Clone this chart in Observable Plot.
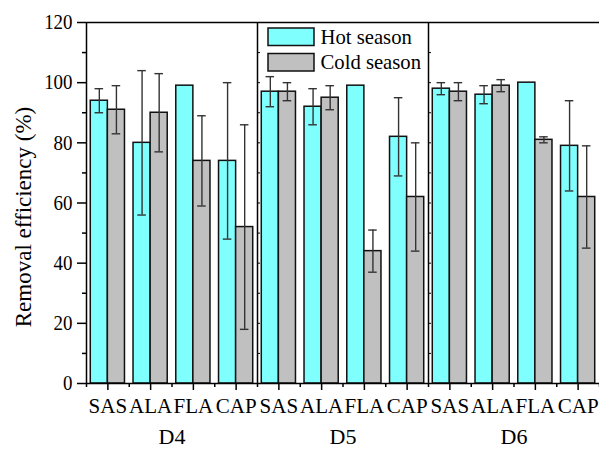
<!DOCTYPE html>
<html><head><meta charset="utf-8">
<script src="https://cdn.jsdelivr.net/npm/d3@7"></script>
<script src="https://cdn.jsdelivr.net/npm/@observablehq/plot@0.6"></script>
<style>
html,body{margin:0;padding:0;background:#fff;overflow:hidden}
#chart{position:relative;width:599px;height:449px}
#chart svg{font-family:'Liberation Serif','Times New Roman',serif !important}
</style></head><body><div id="chart"></div>
<script>
const panels = ["D4", "D5", "D6"];
const compounds = ["SAS", "ALA", "FLA", "CAP"];
const seasons = ["Hot season", "Cold season"];
const hotMean  = [[94, 80, 99, 74], [97, 92, 99, 82], [98, 96, 100, 79]];
const hotErr   = [[4, 24, 0, 26],   [5, 6, 0, 13],    [2, 3, 0, 15]];
const coldMean = [[91, 90, 74, 52], [97, 95, 44, 62], [97, 99, 81, 62]];
const coldErr  = [[8, 13, 15, 34],  [3, 4, 7, 18],    [3, 2, 1, 17]];
const yTicks = [0, 20, 40, 60, 80, 100, 120];
const yMinorTicks = [10, 30, 50, 70, 90, 110];
const yLabel = "Removal efficiency (%)";

const rows = [];
panels.forEach((p, pi) => compounds.forEach((c, ci) => {
  const pos = pi * compounds.length + ci;
  rows.push({panel: p, compound: c, season: seasons[0], pos, side: -1, mean: hotMean[pi][ci], err: hotErr[pi][ci]});
  rows.push({panel: p, compound: c, season: seasons[1], pos, side: 1, mean: coldMean[pi][ci], err: coldErr[pi][ci]});
}));
const W = 0.4;
const barX1 = d => d.side < 0 ? d.pos - W : d.pos;
const barX2 = d => d.side < 0 ? d.pos : d.pos + W;
const barC = d => d.pos + d.side * W / 2;
const errRows = rows.filter(d => d.err > 0);
const nCat = panels.length * compounds.length;
const bounds = d3.range(nCat + 1).map(i => i - 0.5);
const dividers = panels.slice(1).map((p, i) => (i + 1) * compounds.length - 0.5);
const frameEdges = [-0.5, ...dividers];
const divTicks = dividers.flatMap(b => d3.range(10, 120, 10).map(v => ({b, v})));
const panelCenters = panels.map((p, i) => i * compounds.length + (compounds.length - 1) / 2);

const font = "'Liberation Serif', 'Times New Roman', serif";
const plot = Plot.plot({
  width: 599, height: 449,
  marginLeft: 86, marginRight: 0, marginTop: 22, marginBottom: 66,
  style: {fontFamily: font, fontSize: "21px", color: "#000", background: "#fff", overflow: "visible"},
  x: {domain: [-0.5, nCat - 0.5], label: null},
  y: {domain: [0, 120], label: null},
  color: {domain: seasons, range: ["#80FFFF", "#C0C0C0"]},
  marks: [
    Plot.rectY(rows, {x1: barX1, x2: barX2, y1: 0, y2: "mean", fill: "season", stroke: "#111", strokeWidth: 1.5}),
    Plot.ruleX(errRows, {x: barC, y1: d => d.mean - d.err, y2: d => d.mean + d.err, stroke: "#333", strokeWidth: 1.4}),
    Plot.ruleY(errRows, {y: d => d.mean + d.err, x1: d => barC(d) - 0.1, x2: d => barC(d) + 0.1, stroke: "#333", strokeWidth: 1.4}),
    Plot.ruleY(errRows, {y: d => d.mean - d.err, x1: d => barC(d) - 0.1, x2: d => barC(d) + 0.1, stroke: "#333", strokeWidth: 1.4}),
    Plot.ruleY([0, 120], {stroke: "#000", strokeWidth: 1.5}),
    Plot.ruleX(frameEdges, {stroke: "#000", strokeWidth: 1.5}),
    Plot.ruleY(divTicks, {y: "v", x1: "b", x2: d => d.b + 0.07, stroke: "#000", strokeWidth: 1}),
    Plot.axisX({ticks: bounds, tickSize: 4, tickFormat: () => "", strokeWidth: 1.5, label: null}),
    Plot.axisX({ticks: d3.range(nCat), tickSize: 7, tickPadding: 8, strokeWidth: 1.5, label: null,
      tickFormat: i => compounds[i % compounds.length]}),
    Plot.axisX({ticks: panelCenters, tickSize: 0, tickPadding: 45, fontSize: 22, label: null,
      tickFormat: v => panels[Math.round((v - 1.5) / compounds.length)]}),
    Plot.axisY({ticks: yTicks, tickSize: 9, tickPadding: 5, label: null, strokeWidth: 1.5}),
    Plot.axisY({ticks: yMinorTicks, tickSize: 4, tickFormat: () => "", label: null, strokeWidth: 1.5}),
    Plot.text([yLabel], {text: d => d, frameAnchor: "left", rotate: -90, dx: -63, dy: 14, fontSize: 23, textAnchor: "middle"})
  ]
});
document.getElementById("chart").appendChild(plot);

// legend inside the D5 panel
const svg = d3.select(plot);
const xs = plot.scale("x");
const lx = xs.apply(dividers[0]) + 11;
const lg = svg.append("g").attr("class", "legend").attr("font-family", font)
  .attr("font-size", 22).attr("text-anchor", "start");
seasons.forEach((s, i) => {
  const y0 = 28 + i * 25.5;
  lg.append("rect").attr("x", lx).attr("y", y0).attr("width", 46).attr("height", 17.5)
    .attr("fill", i === 0 ? "#80FFFF" : "#C0C0C0").attr("stroke", "#111").attr("stroke-width", 1.5);
  lg.append("text").attr("x", lx + 52.5).attr("y", y0 + 15.5).attr("text-anchor", "start").text(s);
});

// slightly condensed numerals and legend text, as in the reference
const squeeze = new Map([...yTicks.map(v => [String(v), 0.9]), ...seasons.map(s => [s, 0.94])]);
svg.selectAll("text").each(function() {
  const k = squeeze.get(this.textContent);
  if (!k) return;
  const len = this.getComputedTextLength();
  if (len > 0) {
    this.setAttribute("textLength", (len * k).toFixed(2));
    this.setAttribute("lengthAdjust", "spacingAndGlyphs");
  }
});
</script></body></html>
